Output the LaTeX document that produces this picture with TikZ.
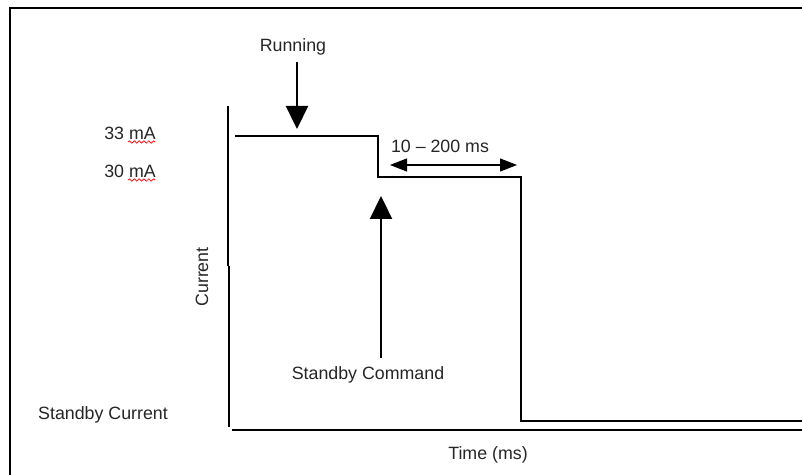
\documentclass[tikz,border=0pt]{standalone}
\usepackage{fontspec}
\setmainfont{Liberation Sans}
\usetikzlibrary{arrows.meta, positioning, decorations.pathmorphing}

\begin{document}
\begin{tikzpicture}[
    x=0.5pt, y=-0.5pt,
    every node/.style={font=\fontsize{8.9}{10.7}\selectfont, text=black!85, inner sep=0pt},
    frameline/.style={line width=1.1pt},
    axisline/.style={line width=0.7pt},
    signal/.style={line width=0.6pt},
    bigarrow/.style={line width=1.1pt, -{Triangle[width=11pt, length=11.5pt]}},
    spanarrow/.style={line width=0.6pt, {Triangle[width=6.5pt, length=8.5pt]}-{Triangle[width=6.5pt, length=8.5pt]}},
    squiggle/.style={red, line width=0.35pt, decorate, decoration={snake, amplitude=0.6pt, segment length=2.4pt}},
]
    \useasboundingbox (0,0) rectangle (802,475);
    \fill[white] (0,0) rectangle (802,475);

    % Outer frame
    \draw[frameline] (10,475) -- (10,8) -- (802,8);

    % Axes
    \coordinate (ytop) at (228,106);
    \coordinate (ymid) at (228,266);
    \coordinate (ybot) at (229,427);
    \draw[axisline] (ytop) -- (ymid);
    \draw[axisline] (229,266) -- (ybot);
    \draw[axisline] (232,430) -- (802,430);

    % Current trace
    \coordinate (start) at (235,136);
    \coordinate (step1) at (378,136);
    \coordinate (low1) at (378,177);
    \coordinate (step2) at (521,177);
    \coordinate (low2) at (521,421);
    \coordinate (stop) at (802,421);
    \draw[signal] (start) -- (step1) -- (low1) -- (step2) -- (low2) -- (stop);

    % Labels
    \node (run) at (293,47) {Running};
    \node (cmd) at (368,375) {Standby Command};
    \node (span) at (440,146) {10 -- 200 ms};
    \node (i33) at (130,133) {33 mA};
    \node (i30) at (130,171) {30 mA};
    \node[rotate=90] (cur) at (202,277) {Current};
    \node (stby) at (103,415) {Standby Current};
    \node (time) at (488,455) {Time (ms)};

    % Spell-check marks under mA
    \draw[squiggle] (128,142) -- (155,142);
    \draw[squiggle] (128,180) -- (155,180);

    % Arrows
    \coordinate (runtail) at (297,62);
    \coordinate (runtip) at (297,129);
    \coordinate (cmdtail) at (381,358);
    \coordinate (cmdtip) at (381,196);
    \coordinate (spanl) at (390,165);
    \coordinate (spanr) at (517,165);
    \draw[bigarrow] (runtail) -- (runtip);
    \draw[bigarrow] (cmdtail) -- (cmdtip);
    \draw[spanarrow] (spanl) -- (spanr);
\end{tikzpicture}
\end{document}
